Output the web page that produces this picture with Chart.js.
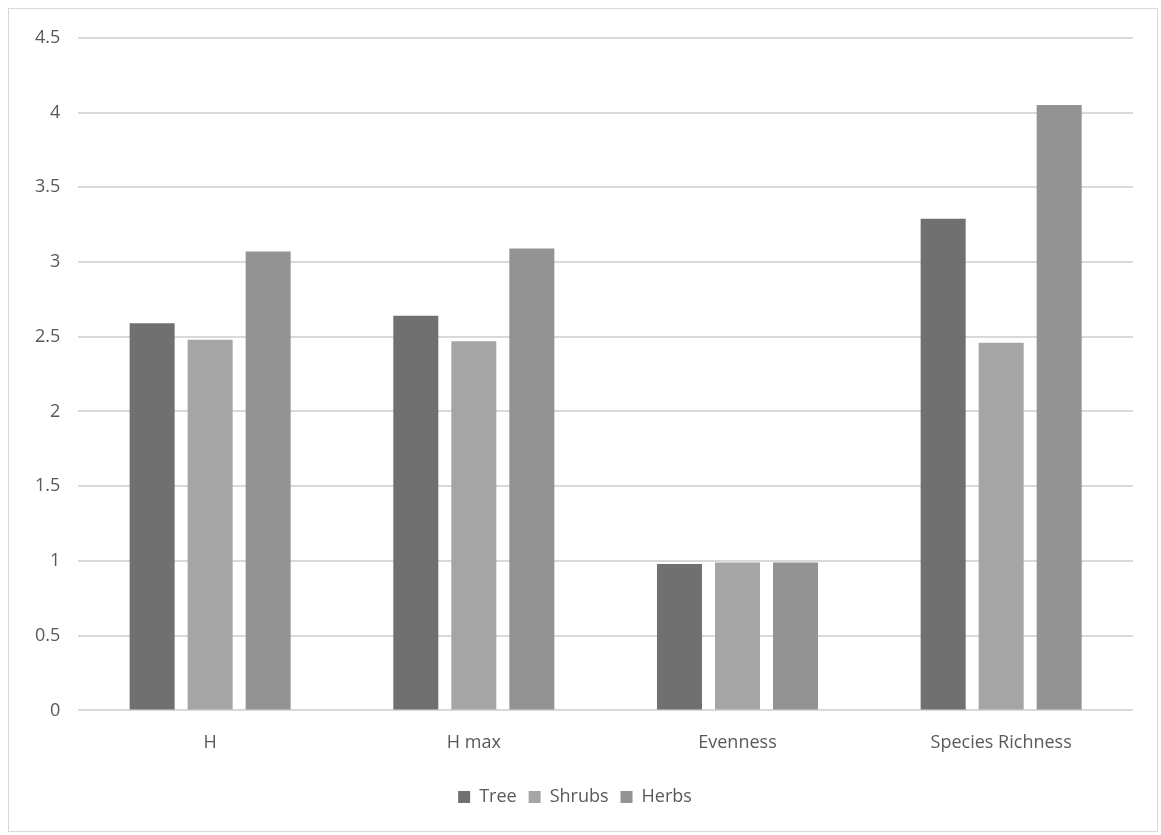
<!DOCTYPE html>
<html>
<head>
<meta charset="utf-8">
<script src="https://cdn.jsdelivr.net/npm/chart.js@4/dist/chart.umd.min.js"></script>
<style>
  html, body { margin: 0; padding: 0; background: #fff; }
  #wrap {
    position: absolute; left: 8px; top: 8px;
    width: 1150px; height: 824px;
    border: 1px solid #d9d9d9; box-sizing: border-box;
  }
  canvas { display: block; }
</style>
</head>
<body>
<div id="wrap"><canvas id="diversityChart"></canvas></div>
<script>
/* global Chart:false */

// categories and series values
var categories = ["H", "H max", "Evenness", "Species Richness"];
var treeValues = [2.59, 2.64, 0.98, 3.29];
var shrubValues = [2.48, 2.47, 0.99, 2.46];
var herbValues = [3.07, 3.09, 0.99, 4.05];
var yTicks = [0, 0.5, 1, 1.5, 2, 2.5, 3, 3.5, 4, 4.5];

var fontFamily = "'Open Sans', 'Liberation Sans', sans-serif";
var textColor = "#595959";
var gridColor = "#d9d9d9";

function makeSet(label, data, color) {
  return {
    label: label,
    data: data,
    backgroundColor: color,
    borderWidth: 0,
    categoryPercentage: 0.66,
    barPercentage: 0.776,
  };
}

var ctx = document.getElementById("diversityChart").getContext("2d");
var chart = new Chart(ctx, {
  type: "bar",
  data: {
    labels: categories,
    datasets: [
      makeSet("Tree", treeValues, "#707070"),
      makeSet("Shrubs", shrubValues, "#a5a5a5"),
      makeSet("Herbs", herbValues, "#939393"),
    ],
  },
  options: {
    responsive: true,
    maintainAspectRatio: false,
    animation: false,
    layout: {
      padding: { left: 8, right: 24, top: 12, bottom: 15 },
    },
    plugins: {
      legend: {
        position: "bottom",
        labels: {
          color: textColor,
          font: { family: fontFamily, size: 18 },
          boxWidth: 12,
          boxHeight: 12,
          padding: 12,
        },
      },
      tooltip: { enabled: false },
    },
    scales: {
      x: {
        grid: { display: false, drawTicks: false },
        border: { display: false },
        ticks: {
          color: textColor,
          font: { family: fontFamily, size: 18 },
          padding: 22,
        },
      },
      y: {
        min: 0,
        max: 4.5,
        afterBuildTicks: function (axis) {
          axis.ticks = yTicks.map(function (v) { return { value: v }; });
        },
        grid: { color: gridColor, lineWidth: 2, drawTicks: false },
        border: { display: false },
        ticks: {
          color: textColor,
          font: { family: fontFamily, size: 18 },
          padding: 18,
          callback: function (value) { return String(value); },
        },
      },
    },
  },
});
</script>
</body>
</html>
